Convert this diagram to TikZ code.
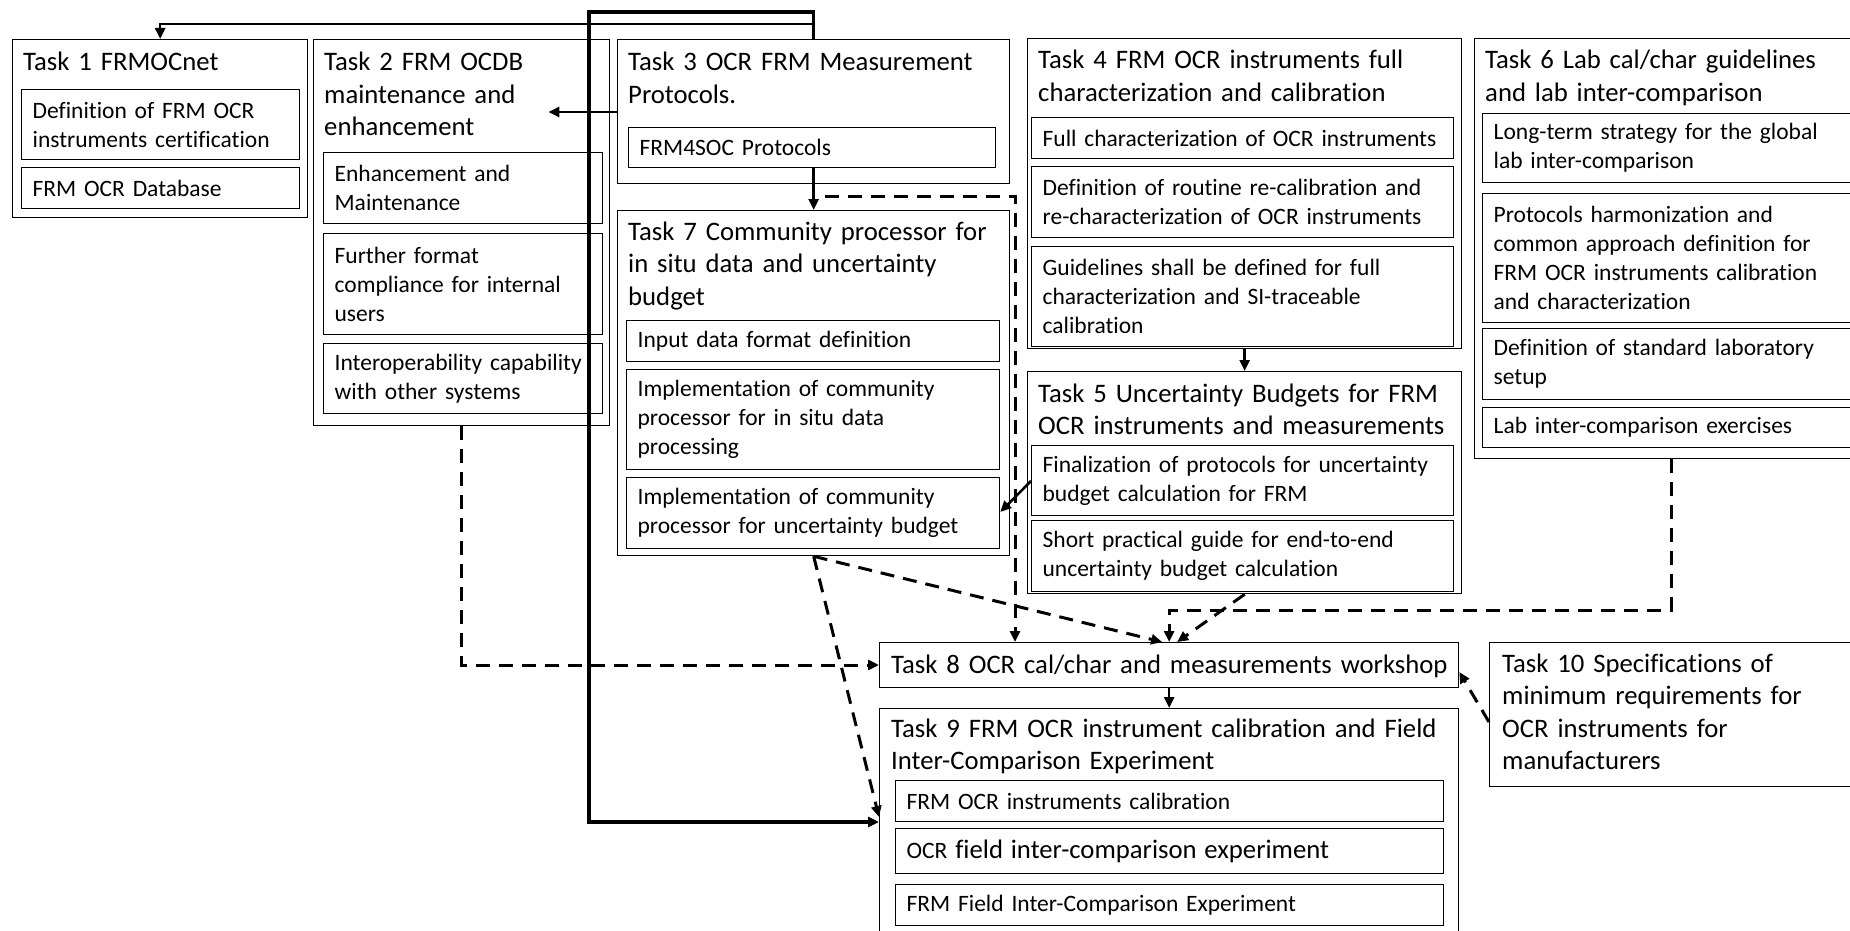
\documentclass[tikz,border=0pt]{standalone}
\usepackage{fontspec}
\setmainfont[Ligatures=NoCommon]{Carlito}
\usetikzlibrary{arrows.meta,calc}
\newcommand\ttlfont{\fontsize{26.7}{32.5}\selectfont}
\newcommand\subfont{\fontsize{23.5}{29}\selectfont}
\tikzset{
  box/.style={draw, line width=1.3pt, inner sep=0pt, anchor=north west},
  outer/.style 2 args={box, minimum width=#1pt, minimum height=#2pt},
  sub/.style 2 args={box, inner xsep=11pt, align=left, font=\subfont, minimum width=#1pt, minimum height=#2pt, text width=\fpeval{#1-22}pt},
  ttl/.style={anchor=base west, inner sep=0pt, align=left, font=\ttlfont, text width=700pt},
  arr/.style={line width=2.6pt, -{Triangle[length=11pt,width=10pt]}},
  thk/.style={line width=3.3pt, -{Triangle[length=11pt,width=10pt]}},
  dsh/.style={line width=3pt, dash pattern=on 14pt off 9pt, -{Triangle[length=11pt,width=10pt]}},
}
\begin{document}
\begin{tikzpicture}[x=1pt,y=-1pt]
\useasboundingbox (0,0) rectangle (1850,931);
\fill[white] (0,0) rectangle (1850,931);
\clip (0,0) rectangle (1850,931);
% Task 1
\node[outer={295}{178}] (t1) at (12,39) {};
\node[ttl] (t1t) at (23,71) {Task 1 FRMOCnet};
\node[sub={278}{70}] (t1a) at (21,89) {Definition of FRM OCR\\instruments certification};
\node[sub={278}{41}] (t1b) at (21,167) {FRM OCR Database};
% Task 2
\node[outer={296}{386}] (t2) at (313,39) {};
\node[ttl] (t2t) at (324,71) {Task 2 FRM OCDB\\maintenance and\\enhancement};
\node[sub={279}{71}] (t2a) at (323,152) {Enhancement and\\Maintenance};
\node[sub={279}{101}] (t2b) at (323,233) {Further format\\compliance for internal\\users};
\node[sub={279}{70}] (t2c) at (323,343) {\mbox{Interoperability capability}\\with other systems};
% Task 3
\node[outer={392}{144}] (t3) at (617,39) {};
\node[ttl] (t3t) at (628,71) {Task 3 OCR FRM Measurement\\Protocols.};
\node[sub={367}{40}] (t3a) at (628,127) {FRM4SOC Protocols};
% Task 7
\node[outer={392}{345}] (t7) at (617,210) {};
\node[ttl] (t7t) at (628,240) {Task 7 Community processor for\\in situ data and uncertainty\\budget};
\node[sub={373}{41}] (t7a) at (626,320) {Input data format definition};
\node[sub={373}{100}] (t7b) at (626,369) {Implementation of community\\processor for in situ data\\processing};
\node[sub={373}{71}] (t7c) at (626,477) {Implementation of community\\processor for uncertainty budget};
% Task 4
\node[outer={434}{310}] (t4) at (1027,38) {};
\node[ttl] (t4t) at (1038,69) {Task 4 FRM OCR instruments full\\characterization and calibration};
\node[sub={422}{41}] (t4a) at (1031,117) {Full characterization of OCR instruments};
\node[sub={422}{71}] (t4b) at (1031,166) {Definition of routine re-calibration and\\re-characterization of OCR instruments};
\node[sub={422}{100}] (t4c) at (1031,246) {Guidelines shall be defined for full\\characterization and SI-traceable\\calibration};
% Task 5
\node[outer={434}{222}] (t5) at (1027,371) {};
\node[ttl] (t5t) at (1038,402) {Task 5 Uncertainty Budgets for FRM\\OCR instruments and measurements};
\node[sub={422}{70}] (t5a) at (1031,445) {Finalization of protocols for uncertainty\\budget calculation for FRM};
\node[sub={422}{71}] (t5b) at (1031,520) {Short practical guide for end-to-end\\uncertainty budget calculation};
% Task 6
\node[outer={416}{420}] (t6) at (1474,38) {};
\node[ttl] (t6t) at (1485,69) {Task 6 Lab cal/char guidelines\\and lab inter-comparison};
\node[sub={400}{69}] (t6a) at (1482,113) {Long-term strategy for the global\\lab inter-comparison};
\node[sub={400}{129}] (t6b) at (1482,193) {Protocols harmonization and\\common approach definition for\\FRM OCR instruments calibration\\and characterization};
\node[sub={400}{71}] (t6c) at (1482,328) {Definition of standard laboratory\\setup};
\node[sub={400}{40}] (t6d) at (1482,407) {Lab inter-comparison exercises};
% Task 8
\node[outer={579}{45}] (t8) at (879,642) {};
\node[ttl] (t8t) at (891,673) {Task 8 OCR cal/char and measurements workshop};
% Task 9
\node[outer={579}{240}] (t9) at (879,708) {};
\node[ttl] (t9t) at (891,737) {Task 9 FRM OCR instrument calibration and Field\\Inter-Comparison Experiment};
\node[sub={548}{41}] (t9a) at (895,780) {FRM OCR instruments calibration};
\node[sub={548}{45}] (t9b) at (895,828) {OCR {\ttlfont field inter-comparison experiment}};
\node[sub={548}{41}] (t9c) at (895,884) {FRM Field Inter-Comparison Experiment};
% Task 10
\node[outer={400}{144}] (t10) at (1489,642) {};
\node[ttl] (t10t) at (1502,672) {Task 10 Specifications of\\minimum requirements for\\OCR instruments for\\manufacturers};
% connectors
\draw[thk] (t3.north) -- (t3.north |- 0,12) -- (589,12) -- (589,822) -- (t9.west |- 0,822);
\draw[arr] (t3.north |- 0,24) -- (t1.north |- 0,24) -- (t1.north);
\draw[arr] (t3.west |- 0,112) -- ($(t2.east |- 0,112)+(-62,0)$);
\draw[arr] (t7.north |- t3a.south) -- (t7.north);
\draw[dsh] (825,196) -| (t8.north -| 1015,0);
\draw[arr] (t4.south) -- (t5.north);
\draw[arr] (t5a.west |- 0,481) -- (t7c.east |- 0,512);
\draw[dsh] (t2.south) |- (t8.west |- 0,665);
\draw[dsh] (t7.south) -- ($(t8.north)+(-7,0)$);
\draw[dsh] (t7.south) -- (t9.west |- 0,817);
\draw[dsh] (t5.south) -- ($(t8.north)+(8,0)$);
\draw[dsh] ($(t6.south west)+(197,0)$) |- ($(t8.north)+(0,-32)$) -- (t8.north);
\draw[arr] (t8.south) -- (t9.north);
\draw[dsh] (t10.west |- 0,722) -- (t8.east |- 0,672);
\end{tikzpicture}
\end{document}
